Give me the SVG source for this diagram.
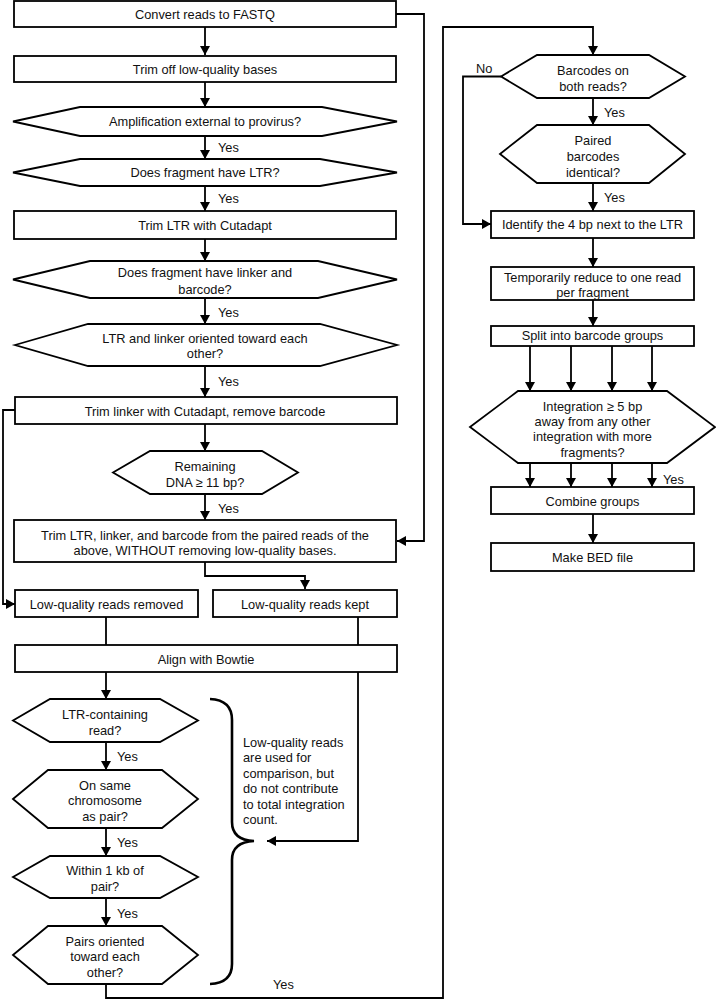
<svg xmlns="http://www.w3.org/2000/svg" width="716" height="999" viewBox="0 0 716 999">
<style>
.b{fill:#fff;stroke:#000;stroke-width:1.8}
.c{fill:none;stroke:#000;stroke-width:1.8}
.t{font-family:"Liberation Sans",Arial,sans-serif;font-size:12.8px;fill:#111;text-anchor:middle}
.l{font-family:"Liberation Sans",Arial,sans-serif;font-size:12.8px;fill:#111}
</style>
<defs>
<marker id="a" markerUnits="userSpaceOnUse" markerWidth="9" markerHeight="10" refX="9" refY="5" orient="auto"><path d="M0,0 L9,5 L0,10 z" fill="#000"/></marker>
</defs>
<rect width="716" height="999" fill="#fff"/>
<g id="connectors" class="c">
<path d="M205,27 V55" marker-end="url(#a)"/>
<path d="M205,82 V107" marker-end="url(#a)"/>
<path d="M205,136 V159" marker-end="url(#a)"/>
<path d="M205,186 V211" marker-end="url(#a)"/>
<path d="M205,239 V261" marker-end="url(#a)"/>
<path d="M205,298 V324" marker-end="url(#a)"/>
<path d="M205,366 V397" marker-end="url(#a)"/>
<path d="M205,424 V451" marker-end="url(#a)"/>
<path d="M205,494 V520" marker-end="url(#a)"/>
<path d="M205,562 V576 H305 V589" marker-end="url(#a)"/>
<path d="M396,14 H424 V541 H397" marker-end="url(#a)"/>
<path d="M15,410 H3 V604 H15" marker-end="url(#a)"/>
<path d="M106,617 V645"/>
<path d="M358,617 V645"/>
<path d="M358,672 V841 H267" marker-end="url(#a)"/>
<path d="M106,672 V699" marker-end="url(#a)"/>
<path d="M106,742 V770" marker-end="url(#a)"/>
<path d="M106,828 V856" marker-end="url(#a)"/>
<path d="M106,898 V926" marker-end="url(#a)"/>
<path d="M106,984 V998 H443 V27 H593 V55" marker-end="url(#a)"/>
<path d="M501,76.5 H463 V224 H491" marker-end="url(#a)"/>
<path d="M593,98 V125" marker-end="url(#a)"/>
<path d="M593,183 V211" marker-end="url(#a)"/>
<path d="M593,238 V267" marker-end="url(#a)"/>
<path d="M593,300 V326" marker-end="url(#a)"/>
<path d="M530,346 V391" marker-end="url(#a)"/>
<path d="M571,346 V391" marker-end="url(#a)"/>
<path d="M612,346 V391" marker-end="url(#a)"/>
<path d="M652,346 V391" marker-end="url(#a)"/>
<path d="M530,463 V487" marker-end="url(#a)"/>
<path d="M571,463 V487" marker-end="url(#a)"/>
<path d="M612,463 V487" marker-end="url(#a)"/>
<path d="M652,463 V487" marker-end="url(#a)"/>
<path d="M593,514 V543" marker-end="url(#a)"/>
<path d="M210,699 Q232,700 232,720 L232,822 Q232,840 254,841 Q232,842 232,860 L232,964 Q232,983 210,984" stroke-width="2.6"/>
</g>
<g id="labels">
<text class="l" x="218" y="151.5">Yes</text>
<text class="l" x="218" y="202.5">Yes</text>
<text class="l" x="218" y="316.5">Yes</text>
<text class="l" x="218" y="385.5">Yes</text>
<text class="l" x="218" y="512.5">Yes</text>
<text class="l" x="117" y="760.5">Yes</text>
<text class="l" x="117" y="846.5">Yes</text>
<text class="l" x="117" y="917.5">Yes</text>
<text class="l" x="273" y="988.5">Yes</text>
<text class="l" x="476" y="72.5">No</text>
<text class="l" x="604" y="116.5">Yes</text>
<text class="l" x="604" y="201.5">Yes</text>
<text class="l" x="663" y="483.5">Yes</text>
<text class="l" x="243" y="746.5">Low-quality reads</text>
<text class="l" x="243" y="762">are used for</text>
<text class="l" x="243" y="777.5">comparison, but</text>
<text class="l" x="243" y="793">do not contribute</text>
<text class="l" x="243" y="808.5">to total integration</text>
<text class="l" x="243" y="824">count.</text>
</g>
<g id="n1"><rect class="b" x="14" y="1" width="382" height="26"/><text class="t" x="205" y="18.5">Convert reads to FASTQ</text></g>
<g id="n2"><rect class="b" x="14" y="56" width="382" height="26"/><text class="t" x="205" y="73.5">Trim off low-quality bases</text></g>
<g id="n3"><polygon class="b" points="13,121.5 80,107 322,107 397,121.5 322,136 80,136"/><text class="t" x="205" y="126">Amplification external to provirus?</text></g>
<g id="n4"><polygon class="b" points="13,172.5 80,159 320,159 397,172.5 320,186 80,186"/><text class="t" x="205" y="177">Does fragment have LTR?</text></g>
<g id="n5"><rect class="b" x="14" y="211" width="382" height="28"/><text class="t" x="205" y="229.5">Trim LTR with Cutadapt</text></g>
<g id="n6"><polygon class="b" points="13,279.5 90,261 318,261 397,279.5 318,298 90,298"/><text class="t" x="205" y="276.5">Does fragment have linker and</text><text class="t" x="205" y="293.5">barcode?</text></g>
<g id="n7"><polygon class="b" points="15,345 88,324 320,324 397,345 320,366 88,366"/><text class="t" x="205" y="342.5">LTR and linker oriented toward each</text><text class="t" x="205" y="357.5">other?</text></g>
<g id="n8"><rect class="b" x="15" y="397" width="382" height="27"/><text class="t" x="205" y="416">Trim linker with Cutadapt, remove barcode</text></g>
<g id="n9"><polygon class="b" points="113,472.5 150,451 262,451 298,472.5 262,494 150,494"/><text class="t" x="205" y="470.5">Remaining</text><text class="t" x="205" y="486.5">DNA ≥ 11 bp?</text></g>
<g id="n10"><rect class="b" x="14" y="520" width="382" height="42"/><text class="t" x="205" y="539.5">Trim LTR, linker, and barcode from the paired reads of the</text><text class="t" x="205" y="554.5">above, WITHOUT removing low-quality bases.</text></g>
<g id="n11"><rect class="b" x="15" y="590" width="183" height="27"/><text class="t" x="106.5" y="608.5">Low-quality reads removed</text></g>
<g id="n12"><rect class="b" x="213" y="590" width="184" height="27"/><text class="t" x="305" y="608.5">Low-quality reads kept</text></g>
<g id="n13"><rect class="b" x="15" y="645" width="382" height="27"/><text class="t" x="206" y="663.5">Align with Bowtie</text></g>
<g id="n14"><polygon class="b" points="13,720.5 50,699 160,699 198,720.5 160,742 50,742"/><text class="t" x="105" y="718.5">LTR-containing</text><text class="t" x="105" y="734.5">read?</text></g>
<g id="n15"><polygon class="b" points="13,799 48,770 162,770 198,799 162,828 48,828"/><text class="t" x="105" y="789.5">On same</text><text class="t" x="105" y="805">chromosome</text><text class="t" x="105" y="820.5">as pair?</text></g>
<g id="n16"><polygon class="b" points="13,877 50,856 160,856 198,877 160,898 50,898"/><text class="t" x="105" y="874.5">Within 1 kb of</text><text class="t" x="105" y="891">pair?</text></g>
<g id="n17"><polygon class="b" points="13,955 48,926 162,926 198,955 162,984 48,984"/><text class="t" x="105" y="945.5">Pairs oriented</text><text class="t" x="105" y="961">toward each</text><text class="t" x="105" y="976.5">other?</text></g>
<g id="n18"><polygon class="b" points="501,76.5 537,55 649,55 685,76.5 649,98 537,98"/><text class="t" x="593" y="74.5">Barcodes on</text><text class="t" x="593" y="90.5">both reads?</text></g>
<g id="n19"><polygon class="b" points="500,154 537,125 649,125 685,154 649,183 537,183"/><text class="t" x="593" y="144.5">Paired</text><text class="t" x="593" y="160.5">barcodes</text><text class="t" x="593" y="176.5">identical?</text></g>
<g id="n20"><rect class="b" x="491" y="211" width="203" height="27"/><text class="t" x="592.5" y="229">Identify the 4 bp next to the LTR</text></g>
<g id="n21"><rect class="b" x="491" y="267" width="203" height="33"/><text class="t" x="592.5" y="281.5">Temporarily reduce to one read</text><text class="t" x="592.5" y="296.5">per fragment</text></g>
<g id="n22"><rect class="b" x="491" y="326" width="203" height="20"/><text class="t" x="592.5" y="339.5">Split into barcode groups</text></g>
<g id="n23"><polygon class="b" points="470,427 518,391 667,391 715,427 667,463 518,463"/><text class="t" x="592.5" y="410.5">Integration ≥ 5 bp</text><text class="t" x="592.5" y="425.5">away from any other</text><text class="t" x="592.5" y="440.5">integration with more</text><text class="t" x="592.5" y="456.5">fragments?</text></g>
<g id="n24"><rect class="b" x="491" y="487" width="203" height="27"/><text class="t" x="592.5" y="505.5">Combine groups</text></g>
<g id="n25"><rect class="b" x="491" y="543" width="203" height="28"/><text class="t" x="592.5" y="561.5">Make BED file</text></g>
</svg>
